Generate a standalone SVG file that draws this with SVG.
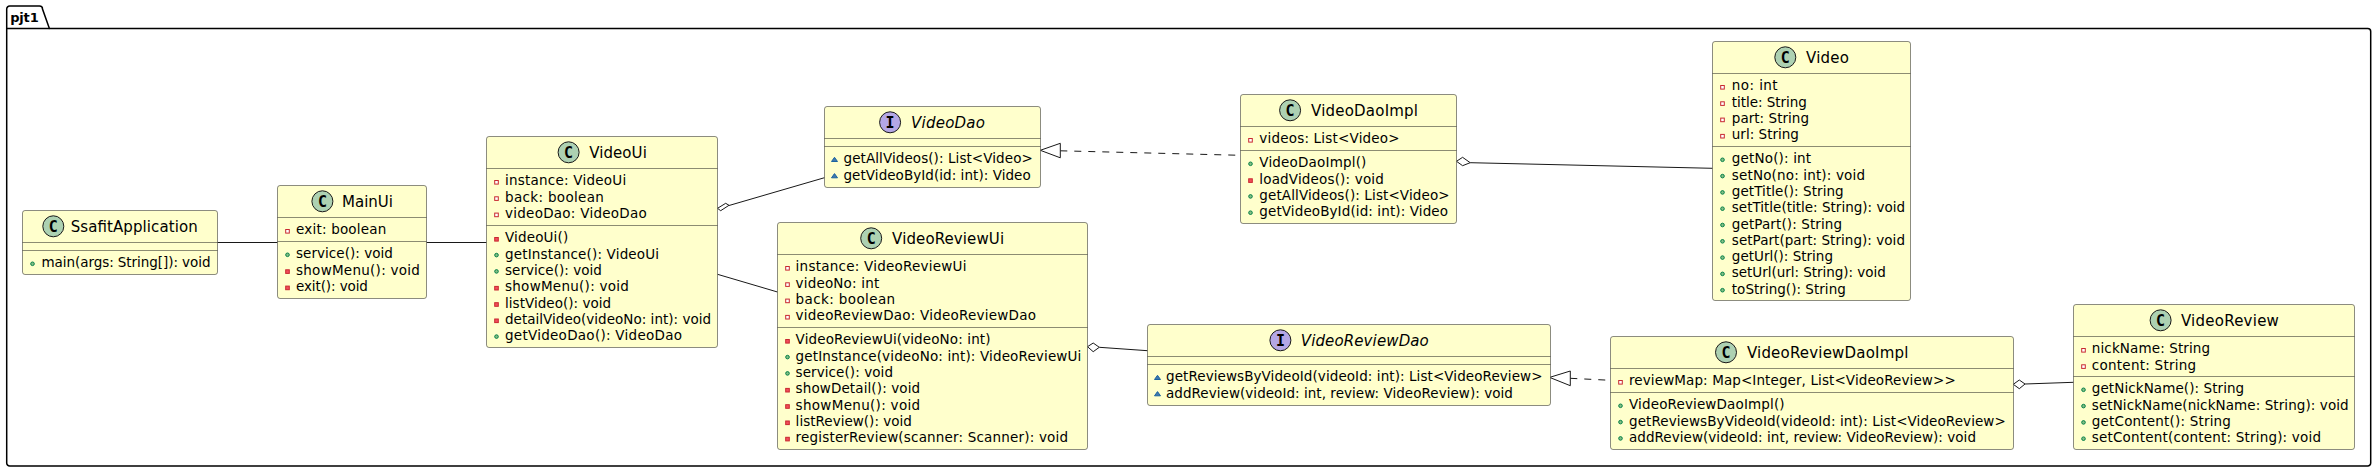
<svg xmlns="http://www.w3.org/2000/svg" width="2376" height="472" viewBox="0 0 2376 472">
<style>
text{font-family:"DejaVu Sans",sans-serif;font-size:13.5px;fill:#000}
.n{font-size:15px}
.i{font-style:italic}
.b{fill:#FFFFCC;stroke:#181818;stroke-width:.5}
.s{stroke:#181818;stroke-width:.5;fill:none}
.cc{fill:#ADD1B2;stroke:#181818;stroke-width:1}
.ci{fill:#B4A7E5;stroke:#181818;stroke-width:1}
.g{font-family:"DejaVu Sans Mono",monospace;font-weight:bold;font-size:15px;text-anchor:middle}
.l{stroke:#181818;stroke-width:1;fill:none}
.d{stroke:#181818;stroke-width:1;fill:none;stroke-dasharray:7 7}
.h{stroke:#181818;stroke-width:1;fill:#fff}
.pf{fill:#fff;stroke:#C82930;stroke-width:1}
.pm{fill:#F24D5C;stroke:#C82930;stroke-width:1}
.uf{fill:#84BE84;stroke:#038048;stroke-width:1}
.pk{fill:#4177AF;stroke:#1963A0;stroke-width:1}
</style>
<defs>
<rect id="f" x="-1.8" y="-4.8" width="3.6" height="3.6" class="pf"/>
<rect id="m" x="-1.8" y="-4.8" width="3.6" height="3.6" class="pm"/>
<circle id="u" cx="0" cy="-3.5" r="1.8" class="uf"/>
<polygon id="k" points="-3,-1.8 3,-1.8 0,-6" class="pk"/>
</defs>
<g id="pjt1">
<path d="M6.7 28.6V9a3 3 0 0 1 3-3H39.5a3 3 0 0 1 3 3L49.4 28.6H2367.7a3 3 0 0 1 3 3V463a3 3 0 0 1-3 3H9.7a3 3 0 0 1-3-3Z" fill="none" stroke="#000" stroke-width="1.5"/>
<path d="M6.7 28.6H49.4" stroke="#000" stroke-width="1.5"/>
<text x="10.2" y="21.5" textLength="28.5" style="font-weight:bold;font-size:13px">pjt1</text>
</g>
<g id="connectors">
<path class="l" d="M217.5 242.5H277.5"/>
<path class="l" d="M426.5 242.5H486.5"/>
<path class="l" d="M729 205.5L824.5 177.7"/>
<polygon class="h" points="717.5,208.3 725.7,203.3 729,205.3 720.7,210.7"/>
<path class="l" d="M717.5 274.3L777.5 292"/>
<path class="d" d="M1060.3 150.8L1240.5 155.3"/>
<polygon class="h" points="1040.3,150.3 1060.3,143.3 1060.3,157.8"/>
<path class="l" d="M1470.2 162.7L1712.5 168.3"/>
<polygon class="h" points="1456.5,161.3 1462.6,157.3 1470.2,162.7 1462.6,165.7"/>
<path class="l" d="M1099.3 347.3L1147.5 350.7"/>
<polygon class="h" points="1087.5,346.7 1093.2,343 1099.3,347.3 1093.2,351.7"/>
<path class="d" d="M1570.3 378.3L1610.5 380.3"/>
<polygon class="h" points="1549.6,377.4 1570.3,371 1570.3,385.7"/>
<path class="l" d="M2025 384L2073.5 382.3"/>
<polygon class="h" points="2013.3,384.3 2019.3,380 2025,384 2019.3,388.7"/>
</g>
<g id="SsafitApplication">
<rect class="b" x="22.5" y="210.5" width="195" height="64" rx="2.5"/>
<path class="s" d="M22.5 242.5H217.5M22.5 250.5H217.5"/>
<circle class="cc" cx="53.3" cy="226.3" r="10.5"/><text class="g" x="53.3" y="231.5">C</text>
<text class="n" x="70.7" y="231.7" textLength="127">SsafitApplication</text>
<use href="#u" x="32.5" y="267.3"/><text x="41.5" y="267.3" textLength="169">main(args: String[]): void</text>
</g>
<g id="MainUi">
<rect class="b" x="277.5" y="185.5" width="149" height="113" rx="2.5"/>
<path class="s" d="M277.5 217.5H426.5M277.5 241.5H426.5"/>
<circle class="cc" cx="322.4" cy="201.3" r="10.5"/><text class="g" x="322.4" y="206.5">C</text>
<text class="n" x="342" y="206.7" textLength="51">MainUi</text>
<use href="#f" x="287.5" y="234.3"/><text x="296" y="234.3" textLength="90.3">exit: boolean</text>
<use href="#u" x="287.5" y="258.3"/><text x="296" y="258.3" textLength="96.9">service(): void</text>
<use href="#m" x="287.5" y="274.6"/><text x="296" y="274.6" textLength="123.9">showMenu(): void</text>
<use href="#m" x="287.5" y="290.9"/><text x="296" y="290.9" textLength="71.9">exit(): void</text>
</g>
<g id="VideoUi">
<rect class="b" x="486.5" y="136.5" width="231" height="211" rx="2.5"/>
<path class="s" d="M486.5 168.5H717.5M486.5 225.5H717.5"/>
<circle class="cc" cx="568.6" cy="152.3" r="10.5"/><text class="g" x="568.6" y="157.5">C</text>
<text class="n" x="589.3" y="157.7" textLength="57.5">VideoUi</text>
<use href="#f" x="496.5" y="185.3"/><text x="505" y="185.3" textLength="121.2">instance: VideoUi</text>
<use href="#f" x="496.5" y="201.6"/><text x="505" y="201.6" textLength="98.9">back: boolean</text>
<use href="#f" x="496.5" y="217.9"/><text x="505" y="217.9" textLength="141.8">videoDao: VideoDao</text>
<use href="#m" x="496.5" y="242.3"/><text x="505" y="242.3" textLength="63.2">VideoUi()</text>
<use href="#u" x="496.5" y="258.6"/><text x="505" y="258.6" textLength="154.1">getInstance(): VideoUi</text>
<use href="#u" x="496.5" y="274.9"/><text x="505" y="274.9" textLength="96.9">service(): void</text>
<use href="#m" x="496.5" y="291.2"/><text x="505" y="291.2" textLength="123.9">showMenu(): void</text>
<use href="#m" x="496.5" y="307.5"/><text x="505" y="307.5" textLength="106.1">listVideo(): void</text>
<use href="#m" x="496.5" y="323.8"/><text x="505" y="323.8" textLength="206.1">detailVideo(videoNo: int): void</text>
<use href="#u" x="496.5" y="340.1"/><text x="505" y="340.1" textLength="177">getVideoDao(): VideoDao</text>
</g>
<g id="VideoDao">
<rect class="b" x="824.5" y="106.5" width="216" height="81" rx="2.5"/>
<path class="s" d="M824.5 138.5H1040.5M824.5 146.5H1040.5"/>
<circle class="ci" cx="890.1" cy="122.3" r="10.5"/><text class="g" x="890.1" y="127.5">I</text>
<text class="n i" x="911" y="127.7" textLength="74">VideoDao</text>
<use href="#k" x="834.5" y="163.3"/><text x="843.5" y="163.3" textLength="189.3">getAllVideos(): List&lt;Video&gt;</text>
<use href="#k" x="834.5" y="179.6"/><text x="843.5" y="179.6" textLength="187.2">getVideoById(id: int): Video</text>
</g>
<g id="VideoDaoImpl">
<rect class="b" x="1240.5" y="94.5" width="216" height="129" rx="2.5"/>
<path class="s" d="M1240.5 126.5H1456.5M1240.5 150.5H1456.5"/>
<circle class="cc" cx="1290.1" cy="110.3" r="10.5"/><text class="g" x="1290.1" y="115.5">C</text>
<text class="n" x="1311" y="115.7" textLength="107">VideoDaoImpl</text>
<use href="#f" x="1250.5" y="143.3"/><text x="1259.3" y="143.3" textLength="140.3">videos: List&lt;Video&gt;</text>
<use href="#u" x="1250.5" y="167.3"/><text x="1259.3" y="167.3" textLength="107.1">VideoDaoImpl()</text>
<use href="#m" x="1250.5" y="183.6"/><text x="1259.3" y="183.6" textLength="124.5">loadVideos(): void</text>
<use href="#u" x="1250.5" y="199.9"/><text x="1259.3" y="199.9" textLength="190.3">getAllVideos(): List&lt;Video&gt;</text>
<use href="#u" x="1250.5" y="216.2"/><text x="1259.3" y="216.2" textLength="188.7">getVideoById(id: int): Video</text>
</g>
<g id="VideoReviewUi">
<rect class="b" x="777.5" y="222.5" width="310" height="227" rx="2.5"/>
<path class="s" d="M777.5 254.5H1087.5M777.5 327.5H1087.5"/>
<circle class="cc" cx="871.2" cy="238.3" r="10.5"/><text class="g" x="871.2" y="243.5">C</text>
<text class="n" x="892.1" y="243.7" textLength="112">VideoReviewUi</text>
<use href="#f" x="787.5" y="271.3"/><text x="795.6" y="271.3" textLength="170.9">instance: VideoReviewUi</text>
<use href="#f" x="787.5" y="287.6"/><text x="795.6" y="287.6" textLength="83.6">videoNo: int</text>
<use href="#f" x="787.5" y="303.9"/><text x="795.6" y="303.9" textLength="99.5">back: boolean</text>
<use href="#f" x="787.5" y="320.2"/><text x="795.6" y="320.2" textLength="240.3">videoReviewDao: VideoReviewDao</text>
<use href="#m" x="787.5" y="344.3"/><text x="795.6" y="344.3" textLength="194.9">VideoReviewUi(videoNo: int)</text>
<use href="#u" x="787.5" y="360.6"/><text x="795.6" y="360.6" textLength="285.7">getInstance(videoNo: int): VideoReviewUi</text>
<use href="#u" x="787.5" y="376.9"/><text x="795.6" y="376.9" textLength="97.4">service(): void</text>
<use href="#m" x="787.5" y="393.2"/><text x="795.6" y="393.2" textLength="124.5">showDetail(): void</text>
<use href="#m" x="787.5" y="409.5"/><text x="795.6" y="409.5" textLength="124.5">showMenu(): void</text>
<use href="#m" x="787.5" y="425.8"/><text x="795.6" y="425.8" textLength="116.3">listReview(): void</text>
<use href="#m" x="787.5" y="442.1"/><text x="795.6" y="442.1" textLength="272.4">registerReview(scanner: Scanner): void</text>
</g>
<g id="VideoReviewDao">
<rect class="b" x="1147.5" y="324.5" width="403" height="81" rx="2.5"/>
<path class="s" d="M1147.5 356.5H1550.5M1147.5 364.5H1550.5"/>
<circle class="ci" cx="1280.4" cy="340.3" r="10.5"/><text class="g" x="1280.4" y="345.5">I</text>
<text class="n i" x="1300.8" y="345.7" textLength="128">VideoReviewDao</text>
<use href="#k" x="1157.5" y="381.3"/><text x="1166" y="381.3" textLength="376.5">getReviewsByVideoId(videoId: int): List&lt;VideoReview&gt;</text>
<use href="#k" x="1157.5" y="397.6"/><text x="1166" y="397.6" textLength="346.9">addReview(videoId: int, review: VideoReview): void</text>
</g>
<g id="Video">
<rect class="b" x="1712.5" y="41.5" width="198" height="259" rx="2.5"/>
<path class="s" d="M1712.5 73.5H1910.5M1712.5 146.5H1910.5"/>
<circle class="cc" cx="1785.3" cy="57.3" r="10.5"/><text class="g" x="1785.3" y="62.5">C</text>
<text class="n" x="1806" y="62.7" textLength="43">Video</text>
<use href="#f" x="1722.5" y="90.3"/><text x="1731.8" y="90.3" textLength="45.8">no: int</text>
<use href="#f" x="1722.5" y="106.6"/><text x="1731.8" y="106.6" textLength="75.1">title: String</text>
<use href="#f" x="1722.5" y="122.9"/><text x="1731.8" y="122.9" textLength="77.2">part: String</text>
<use href="#f" x="1722.5" y="139.2"/><text x="1731.8" y="139.2" textLength="67.1">url: String</text>
<use href="#u" x="1722.5" y="163.3"/><text x="1731.8" y="163.3" textLength="79.3">getNo(): int</text>
<use href="#u" x="1722.5" y="179.6"/><text x="1731.8" y="179.6" textLength="133.2">setNo(no: int): void</text>
<use href="#u" x="1722.5" y="195.9"/><text x="1731.8" y="195.9" textLength="111.9">getTitle(): String</text>
<use href="#u" x="1722.5" y="212.2"/><text x="1731.8" y="212.2" textLength="173.2">setTitle(title: String): void</text>
<use href="#u" x="1722.5" y="228.5"/><text x="1731.8" y="228.5" textLength="110.3">getPart(): String</text>
<use href="#u" x="1722.5" y="244.8"/><text x="1731.8" y="244.8" textLength="173.2">setPart(part: String): void</text>
<use href="#u" x="1722.5" y="261.1"/><text x="1731.8" y="261.1" textLength="101.2">getUrl(): String</text>
<use href="#u" x="1722.5" y="277.4"/><text x="1731.8" y="277.4" textLength="154">setUrl(url: String): void</text>
<use href="#u" x="1722.5" y="293.7"/><text x="1731.8" y="293.7" textLength="114">toString(): String</text>
</g>
<g id="VideoReviewDaoImpl">
<rect class="b" x="1610.5" y="336.5" width="403" height="113" rx="2.5"/>
<path class="s" d="M1610.5 368.5H2013.5M1610.5 392.5H2013.5"/>
<circle class="cc" cx="1726" cy="352.3" r="10.5"/><text class="g" x="1726" y="357.5">C</text>
<text class="n" x="1746.9" y="357.7" textLength="161.5">VideoReviewDaoImpl</text>
<use href="#f" x="1620.5" y="385.3"/><text x="1629" y="385.3" textLength="326.7">reviewMap: Map&lt;Integer, List&lt;VideoReview&gt;&gt;</text>
<use href="#u" x="1620.5" y="409.3"/><text x="1629" y="409.3" textLength="155.6">VideoReviewDaoImpl()</text>
<use href="#u" x="1620.5" y="425.6"/><text x="1629" y="425.6" textLength="376.8">getReviewsByVideoId(videoId: int): List&lt;VideoReview&gt;</text>
<use href="#u" x="1620.5" y="441.9"/><text x="1629" y="441.9" textLength="347">addReview(videoId: int, review: VideoReview): void</text>
</g>
<g id="VideoReview">
<rect class="b" x="2073.5" y="304.5" width="281" height="145" rx="2.5"/>
<path class="s" d="M2073.5 336.5H2354.5M2073.5 376.5H2354.5"/>
<circle class="cc" cx="2160.6" cy="320.3" r="10.5"/><text class="g" x="2160.6" y="325.5">C</text>
<text class="n" x="2180.9" y="325.7" textLength="98">VideoReview</text>
<use href="#f" x="2083.5" y="353.3"/><text x="2091.8" y="353.3" textLength="118.3">nickName: String</text>
<use href="#f" x="2083.5" y="369.6"/><text x="2091.8" y="369.6" textLength="104.4">content: String</text>
<use href="#u" x="2083.5" y="393.3"/><text x="2091.8" y="393.3" textLength="152.4">getNickName(): String</text>
<use href="#u" x="2083.5" y="409.6"/><text x="2091.8" y="409.6" textLength="256.9">setNickName(nickName: String): void</text>
<use href="#u" x="2083.5" y="425.9"/><text x="2091.8" y="425.9" textLength="139.1">getContent(): String</text>
<use href="#u" x="2083.5" y="442.2"/><text x="2091.8" y="442.2" textLength="229.2">setContent(content: String): void</text>
</g>
</svg>
